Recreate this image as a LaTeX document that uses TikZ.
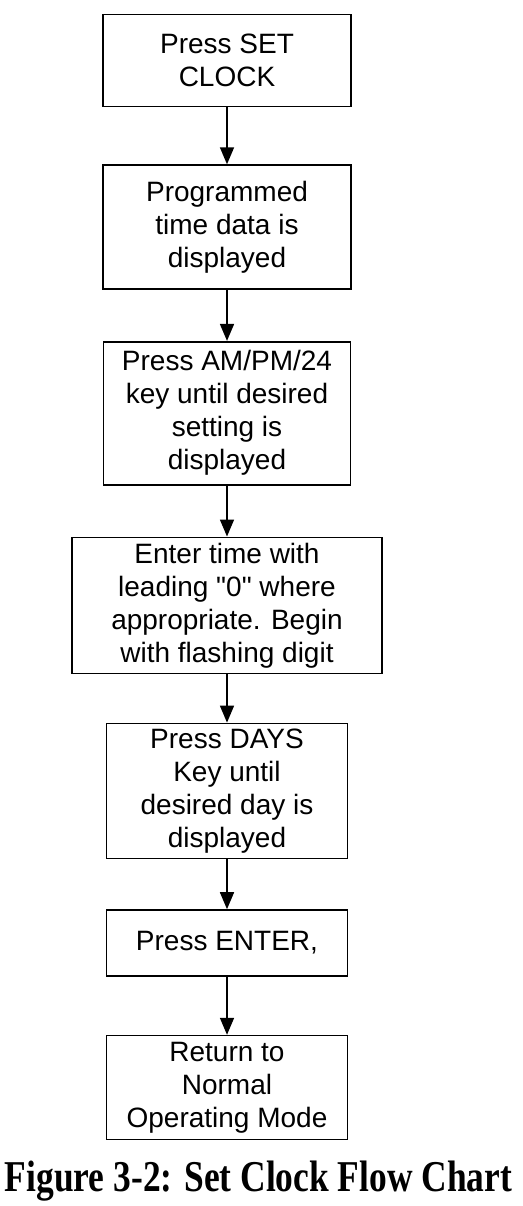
\documentclass[tikz,border=0pt]{standalone}
\usepackage{fontspec}
\setmainfont{Liberation Sans}
\newfontfamily\capfont{Liberation Serif}
\usetikzlibrary{positioning,arrows.meta}

\tikzset{
	stepbox/.style={draw, line width=1.6pt, align=center, inner sep=2pt,
		font=\fontsize{28}{33}\selectfont},
	flow/.style={line width=1.6pt, -{Triangle[width=14pt,length=17pt]}},
}

\begin{document}
\begin{tikzpicture}
		\useasboundingbox (0,0) rectangle (522pt,-1206pt);
		\node[stepbox, minimum width=248pt, minimum height=92pt] (setclk) at (227pt,-60.5pt) {Press SET\\CLOCK};
		\node[stepbox, minimum width=248pt, minimum height=124pt, below=57pt of setclk] (shown) {Programmed\\time data is\\displayed};
		\node[stepbox, minimum width=247pt, minimum height=143pt, below=51pt of shown] (ampm) {Press AM/PM/24\\key until desired\\setting is\\displayed};
		\node[stepbox, minimum width=310pt, minimum height=136pt, below=51pt of ampm] (entertime) {Enter time with\\leading \textquotedbl0\textquotedbl\ where\\appropriate. Begin\\with flashing digit};
		\node[stepbox, minimum width=241pt, minimum height=135pt, below=48.5pt of entertime] (days) {Press DAYS\\Key until\\desired day is\\displayed};
		\node[stepbox, minimum width=241pt, minimum height=66pt, below=50pt of days] (enter) {Press ENTER,};
		\node[stepbox, minimum width=241pt, minimum height=104pt, below=58pt of enter] (normal) {Return to\\Normal\\Operating Mode};
		
		\draw[flow] (setclk) -- (shown);
		\draw[flow] (shown) -- (ampm);
		\draw[flow] (ampm) -- (entertime);
		\draw[flow] (entertime) -- (days);
		\draw[flow] (days) -- (enter);
		\draw[flow] (enter) -- (normal);
		
		\node[anchor=base, inner sep=0pt, font=\capfont\bfseries\fontsize{44}{44}\selectfont] (caption) at (258.5pt,-1191pt) {\resizebox{507pt}{\height}{Figure 3-2: Set Clock Flow Chart}};
	\end{tikzpicture}
\end{document}
